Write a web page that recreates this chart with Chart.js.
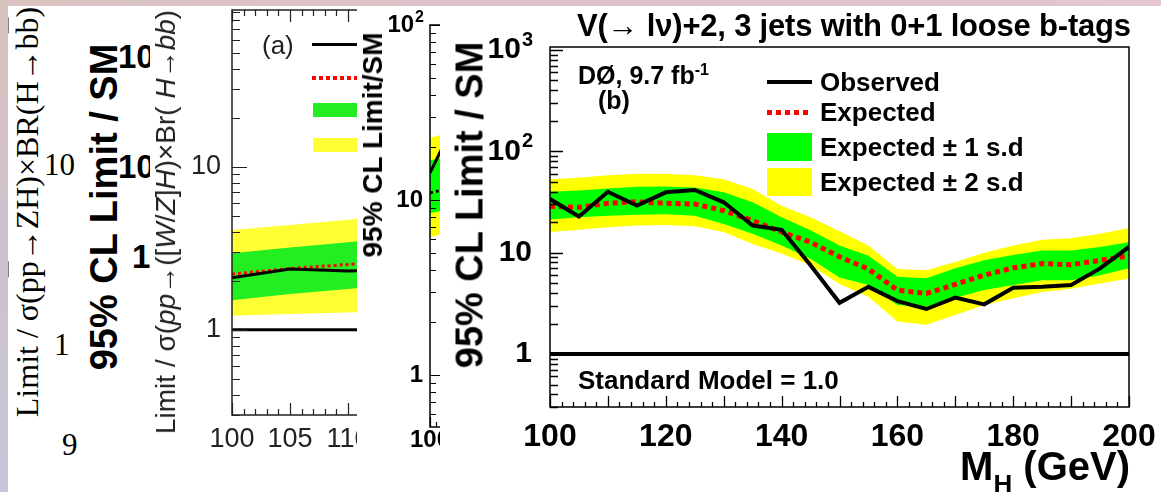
<!DOCTYPE html>
<html>
<head>
<meta charset="utf-8">
<script src="https://cdn.jsdelivr.net/npm/chart.js@4.4.1/dist/chart.umd.min.js"></script>
<style>
html, body { margin: 0; padding: 0; background: #fff; }
body { width: 1161px; height: 492px; position: relative; overflow: hidden; font-family: "Liberation Sans", Arial, sans-serif; color: #000; }
.layer { position: absolute; top: 0; height: 492px; background: #fff; overflow: hidden; }
.abs { position: absolute; white-space: nowrap; }
.rot { position: absolute; white-space: nowrap; transform: translate(-50%, -50%) rotate(-90deg); }
.b { font-weight: bold; }
.ov { text-decoration: overline; }
canvas { position: absolute; left: 0; top: 0; }
</style>
</head>
<body>

<!-- layer 0: serif fragment on the far left -->
<div class="layer" style="left:0; width:77px;">
  <div class="rot" style="left:27px; top:212px; font-family:'Liberation Serif',serif; font-size:32px;">Limit / σ(p<span class="ov">p</span>→ZH)×BR(H→b<span class="ov">b</span>)</div>
  <div class="abs" style="left:44px; top:147px; font-family:'Liberation Serif',serif; font-size:31px;">10</div>
  <div class="abs" style="left:54px; top:327px; font-family:'Liberation Serif',serif; font-size:31px;">1</div>
  <div class="abs" style="left:62px; top:427px; font-family:'Liberation Serif',serif; font-size:31px;">9</div>
</div>

<!-- layer 1: big bold title fragment -->
<div class="layer" style="left:77px; width:73px;">
  <div class="rot b" style="left:27px; top:207px; font-size:38px;">95% CL Limit / SM</div>
  <div class="abs b" style="left:41px; top:38px; font-size:33px;">10</div>
  <div class="abs b" style="left:41px; top:148px; font-size:33px;">10</div>
  <div class="abs b" style="left:55px; top:238px; font-size:33px;">1</div>
</div>

<!-- layer 2: panel (a) fragment -->
<div class="layer" style="left:150px; width:207px;">
  <canvas id="chartA" width="500" height="492"></canvas>
  <div class="rot" style="left:16px; top:222px; font-size:28px; color:#222;">Limit / σ(<i>p<span class="ov">p</span></i>→([<i>W</i>/<i>Z</i>]<i>H</i>)×Br( <i>H</i>→<i>b<span class="ov">b</span></i>)</div>
  <div class="abs" style="left:112px; top:30px; font-size:26px; color:#222;">(a)</div>
  <div class="abs" style="left:162px; top:43px; width:50px; height:3px; background:#000;"></div>
  <div class="abs" style="left:162px; top:76px; width:45px; height:4px; background:repeating-linear-gradient(90deg,#f00 0 4px,transparent 4px 7px);"></div>
  <div class="abs" style="left:163px; top:103px; width:45px; height:14px; background:#22ee22;"></div>
  <div class="abs" style="left:163px; top:138px; width:45px; height:14px; background:#ffff33;"></div>
</div>

<!-- layer 3: narrow sliver of another panel -->
<div class="layer" style="left:357px; width:83px;">
  <canvas id="chartS" width="400" height="492"></canvas>
  <div class="rot b" style="left:16px; top:145px; font-size:28px;">95% CL Limit/SM</div>
</div>

<!-- layer 4: main panel (b) -->
<div class="layer" style="left:440px; width:721px;">
  <canvas id="chartB" width="721" height="492"></canvas>
  <div class="rot b" style="left:30px; top:205px; font-size:38px;">95% CL Limit / SM</div>
  <div class="abs b" style="left:137px; top:9px; font-size:31px; line-height:34px; letter-spacing:-0.2px;">V(→ lν)+2, 3 jets with 0+1 loose b-tags</div>
  <div class="abs b" style="left:138px; top:55px; font-size:25px; line-height:30px;">DØ, 9.7 fb<sup style="font-size:16px;">-1</sup></div>
  <div class="abs b" style="left:158px; top:85px; font-size:25px; line-height:30px;">(b)</div>

  <div class="abs" style="left:327px; top:80px; width:45px; height:4px; background:#000;"></div>
  <div class="abs" style="left:327px; top:110px; width:45px; height:5px; background:repeating-linear-gradient(90deg,#f00 0 5px,transparent 5px 9px);"></div>
  <div class="abs" style="left:327px; top:133px; width:45px; height:28px; background:#00ff00;"></div>
  <div class="abs" style="left:327px; top:168px; width:45px; height:28px; background:#ffff00;"></div>
  <div class="abs b" style="left:380px; top:67px; font-size:26px; line-height:30px;">Observed</div>
  <div class="abs b" style="left:380px; top:97px; font-size:26px; line-height:30px;">Expected</div>
  <div class="abs b" style="left:380px; top:132px; font-size:26px; line-height:30px;">Expected ± 1 s.d</div>
  <div class="abs b" style="left:380px; top:167px; font-size:26px; line-height:30px;">Expected ± 2 s.d</div>

  <div class="abs b" style="left:138px; top:365px; font-size:26px; line-height:30px;">Standard Model = 1.0</div>
  <div class="abs b" style="right:31px; top:444px; font-size:40px; line-height:44px;">M<sub style="font-size:26px; position:relative; top:4px;">H</sub> (GeV)</div>
</div>

<!-- scanned page border -->
<div class="abs" style="left:0; top:0; width:1161px; height:6px; background:linear-gradient(90deg,#d9c3c0,#dcc2cb 50%,#e2c6d0);"></div>
<div class="abs" style="left:0; top:0; width:8px; height:492px; background:linear-gradient(180deg,#d8c4bd,#cfc0cf 50%,#c4c7d8);"></div>

<script>
// Main panel (b) data, M_H in GeV
const massPoints = [100, 105, 110, 115, 120, 125, 130, 135, 140, 145, 150, 155, 160, 165, 170, 175, 180, 185, 190, 195, 200];
const observed   = [33.8, 22.7, 39.9, 29.1, 39.4, 41.5, 31.4, 18.5, 16.8, 7.5, 3.2, 4.6, 3.33, 2.78, 3.6, 3.09, 4.5, 4.6, 4.8, 7.0, 11.4];
const expected   = [28.7, 28.0, 30.7, 31.8, 30.7, 30.2, 26.0, 20.7, 16.0, 12.7, 9.1, 6.9, 4.27, 3.96, 4.86, 6.0, 7.07, 7.8, 7.6, 8.4, 9.3];
const oneSigmaHi = [39.8, 41, 43, 44.7, 45, 43.9, 39.4, 31.4, 22.4, 16.6, 11.8, 9.3, 5.8, 5.6, 7.0, 8.4, 9.5, 10.5, 10.5, 11.4, 12.7];
const oneSigmaLo = [21.2, 22.4, 23.2, 23.7, 24, 23.2, 19.2, 15.4, 11.8, 8.7, 5.7, 4.8, 3.04, 2.93, 3.6, 4.27, 4.8, 5.35, 5.35, 6.0, 7.0];
const twoSigmaHi = [53, 55, 58, 60, 60, 58, 53, 42.5, 29.1, 22.4, 16.3, 11.8, 6.9, 6.7, 8.1, 10, 11.8, 13.4, 13.9, 15.4, 17.5];
const twoSigmaLo = [16, 16.8, 17.8, 18.5, 18.8, 18.2, 16, 12.2, 9.8, 7.5, 4.9, 3.67, 2.09, 1.94, 2.43, 3.04, 3.54, 4.1, 4.4, 4.96, 5.56];
const smLevel = 1.0;
const xTickLabels = [100, 120, 140, 160, 180, 200];
const yTickValues = [1, 10, 100, 1000];
const yTickBase   = ['1', '10', '10', '10'];
const yTickExp    = ['', '', '2', '3'];

// Panel (a) fragment data
const aMass       = [100, 105, 110, 115];
const aObserved   = [2.09, 2.36, 2.3, 2.35];
const aExpected   = [2.2, 2.38, 2.52, 2.68];
const aOneHi      = [2.95, 3.2, 3.45, 3.75];
const aOneLo      = [1.52, 1.66, 1.78, 1.93];
const aTwoHi      = [4.1, 4.4, 4.75, 5.1];
const aTwoLo      = [1.22, 1.25, 1.28, 1.31];
const aXTickLabels = [100, 105, 110];
const aYTickValues = [1, 10];

// Sliver panel fragment data
const sMass       = [100, 105, 110];
const sObserved   = [14.3, 21.6, 19];
const sExpected   = [11, 11.5, 11.8];
const sOneHi      = [16.9, 17.5, 18];
const sOneLo      = [8.4, 8.8, 9];
const sTwoHi      = [22.6, 24, 25];
const sTwoLo      = [6.1, 6.5, 6.8];
const sYTickValues = [1, 10, 100];
const sYTickBase   = ['1', '10', '10'];
const sYTickExp    = ['', '', '2'];

function pts(xs, arr) { return xs.map((m, i) => ({ x: m, y: arr[i] })); }

function bandSets(xs, hi2, lo2, hi1, lo1, yellow, green) {
    return [
        { data: pts(xs, hi2), fill: '+1', backgroundColor: yellow, borderWidth: 0, pointRadius: 0, order: 4 },
        { data: pts(xs, lo2), fill: false, borderWidth: 0, pointRadius: 0, order: 4 },
        { data: pts(xs, hi1), fill: '+1', backgroundColor: green, borderWidth: 0, pointRadius: 0, order: 3 },
        { data: pts(xs, lo1), fill: false, borderWidth: 0, pointRadius: 0, order: 3 }
    ];
}

function drawPow(ctx, base, exp, right, cy, size, weight) {
    ctx.textBaseline = 'middle';
    let w = 0;
    if (exp) {
        ctx.font = `${weight} ${Math.round(size * 0.68)}px "Liberation Sans"`;
        w = ctx.measureText(exp).width;
        ctx.textAlign = 'left';
        ctx.fillText(exp, right - w, cy - size * 0.32);
    }
    ctx.font = `${weight} ${size}px "Liberation Sans"`;
    ctx.textAlign = 'right';
    ctx.fillText(base, right - w - 1, cy);
}

// ROOT style frame: ticks pointing inside, labels drawn from the scales
function rootFrame(cfg) {
    return {
        id: 'rootFrame',
        afterDatasetsDraw(chart) {
            const { ctx, chartArea: a, scales: { x, y } } = chart;
            ctx.save();
            ctx.strokeStyle = cfg.color;
            ctx.lineWidth = cfg.frameWidth;
            ctx.strokeRect(a.left, a.top, a.right - a.left, a.bottom - a.top);
            ctx.lineWidth = cfg.tickWidth;
            ctx.beginPath();
            for (let d = -1; d <= 3; d++) {
                for (let k = 1; k <= 9; k++) {
                    const v = k * Math.pow(10, d);
                    if (v < y.min || v > y.max) continue;
                    const py = Math.round(y.getPixelForValue(v)) + 0.5;
                    ctx.moveTo(a.left, py);
                    ctx.lineTo(a.left + (k === 1 ? cfg.majorY : cfg.minorY), py);
                }
            }
            for (let m = x.min; m <= x.max; m += cfg.xMinorStep) {
                const px = Math.round(x.getPixelForValue(m)) + 0.5;
                const len = (m - x.min) % cfg.xMajorStep === 0 ? cfg.majorX : cfg.minorX;
                ctx.moveTo(px, a.bottom);
                ctx.lineTo(px, a.bottom - len);
                if (cfg.topTicks) {
                    ctx.moveTo(px, a.top);
                    ctx.lineTo(px, a.top + len);
                }
            }
            ctx.stroke();

            ctx.fillStyle = cfg.color;
            cfg.yValues.forEach((v, i) => {
                drawPow(ctx, cfg.yBase[i], cfg.yExp[i], a.left - cfg.yLabelGap, y.getPixelForValue(v), cfg.ySize, cfg.weight);
            });
            ctx.font = `${cfg.weight} ${cfg.xSize}px "Liberation Sans"`;
            ctx.textAlign = 'center';
            ctx.textBaseline = 'middle';
            cfg.xLabels.forEach(m => {
                ctx.fillText(String(m), x.getPixelForValue(m), cfg.xLabelY);
            });
            ctx.restore();
        }
    };
}

function baseOptions(pad, xmin, xmax, ymin, ymax) {
    return {
        responsive: false,
        animation: false,
        devicePixelRatio: 1,
        layout: { padding: pad },
        plugins: { legend: { display: false }, tooltip: { enabled: false } },
        elements: { line: { tension: 0 } },
        scales: {
            x: { type: 'linear', min: xmin, max: xmax, display: false },
            y: { type: 'logarithmic', min: ymin, max: ymax, display: false }
        }
    };
}

// Main chart (b)
new Chart(document.getElementById('chartB'), {
    type: 'line',
    data: {
        datasets: [
            ...bandSets(massPoints, twoSigmaHi, twoSigmaLo, oneSigmaHi, oneSigmaLo, '#ffff00', '#00ff00'),
            { data: pts(massPoints, expected), borderColor: '#ff0000', borderWidth: 5, borderDash: [5, 4], pointRadius: 0, fill: false, order: 1 },
            { data: pts(massPoints, observed), borderColor: '#000', borderWidth: 4, pointRadius: 0, fill: false, order: 0 },
            { data: [{ x: 100, y: smLevel }, { x: 200, y: smLevel }], borderColor: '#000', borderWidth: 4, pointRadius: 0, fill: false, order: 0 }
        ]
    },
    options: baseOptions({ left: 110, top: 47, right: 32, bottom: 85 }, 100, 200, 0.316, 1070),
    plugins: [rootFrame({
        color: '#000', frameWidth: 1.5, tickWidth: 1.3,
        majorY: 13, minorY: 8, majorX: 11, minorX: 5, xMinorStep: 2, xMajorStep: 10,
        yValues: yTickValues, yBase: yTickBase, yExp: yTickExp, yLabelGap: 17, ySize: 30,
        xLabels: xTickLabels, xSize: 32, xLabelY: 437, weight: 'bold'
    })]
});

// Panel (a) fragment
new Chart(document.getElementById('chartA'), {
    type: 'line',
    data: {
        datasets: [
            ...bandSets(aMass, aTwoHi, aTwoLo, aOneHi, aOneLo, '#ffff33', '#22ee22'),
            { data: pts(aMass, aExpected), borderColor: '#ff0000', borderWidth: 3, borderDash: [3, 3], pointRadius: 0, fill: false, order: 1 },
            { data: pts(aMass, aObserved), borderColor: '#000', borderWidth: 3, pointRadius: 0, fill: false, order: 0 },
            { data: [{ x: 100, y: 1 }, { x: 130, y: 1 }], borderColor: '#000', borderWidth: 3, pointRadius: 0, fill: false, order: 0 }
        ]
    },
    options: baseOptions({ left: 82, top: 10, right: 70, bottom: 77 }, 100, 130, 0.31, 92),
    plugins: [rootFrame({
        color: '#222', frameWidth: 1.5, tickWidth: 1.2, topTicks: true,
        majorY: 15, minorY: 8, majorX: 12, minorX: 6, xMinorStep: 1, xMajorStep: 5,
        yValues: aYTickValues, yBase: ['1', '10'], yExp: ['', ''], yLabelGap: 10, ySize: 27,
        xLabels: aXTickLabels, xSize: 27, xLabelY: 440, weight: 'normal'
    })]
});

// Sliver fragment
new Chart(document.getElementById('chartS'), {
    type: 'line',
    data: {
        datasets: [
            ...bandSets(sMass, sTwoHi, sTwoLo, sOneHi, sOneLo, '#ffff00', '#00ff00'),
            { data: pts(sMass, sExpected), borderColor: '#000', borderWidth: 3, borderDash: [3, 3], pointRadius: 0, fill: false, order: 1 },
            { data: pts(sMass, sObserved), borderColor: '#000', borderWidth: 3, pointRadius: 0, fill: false, order: 0 }
        ]
    },
    options: baseOptions({ left: 73, top: 25, right: 20, bottom: 65 }, 100, 200, 0.505, 100),
    plugins: [rootFrame({
        color: '#000', frameWidth: 1.5, tickWidth: 1.2,
        majorY: 11, minorY: 6, majorX: 10, minorX: 5, xMinorStep: 2, xMajorStep: 10,
        yValues: sYTickValues, yBase: sYTickBase, yExp: sYTickExp, yLabelGap: 6, ySize: 24,
        xLabels: [100], xSize: 24, xLabelY: 440, weight: 'bold'
    })]
});
</script>
</body>
</html>
